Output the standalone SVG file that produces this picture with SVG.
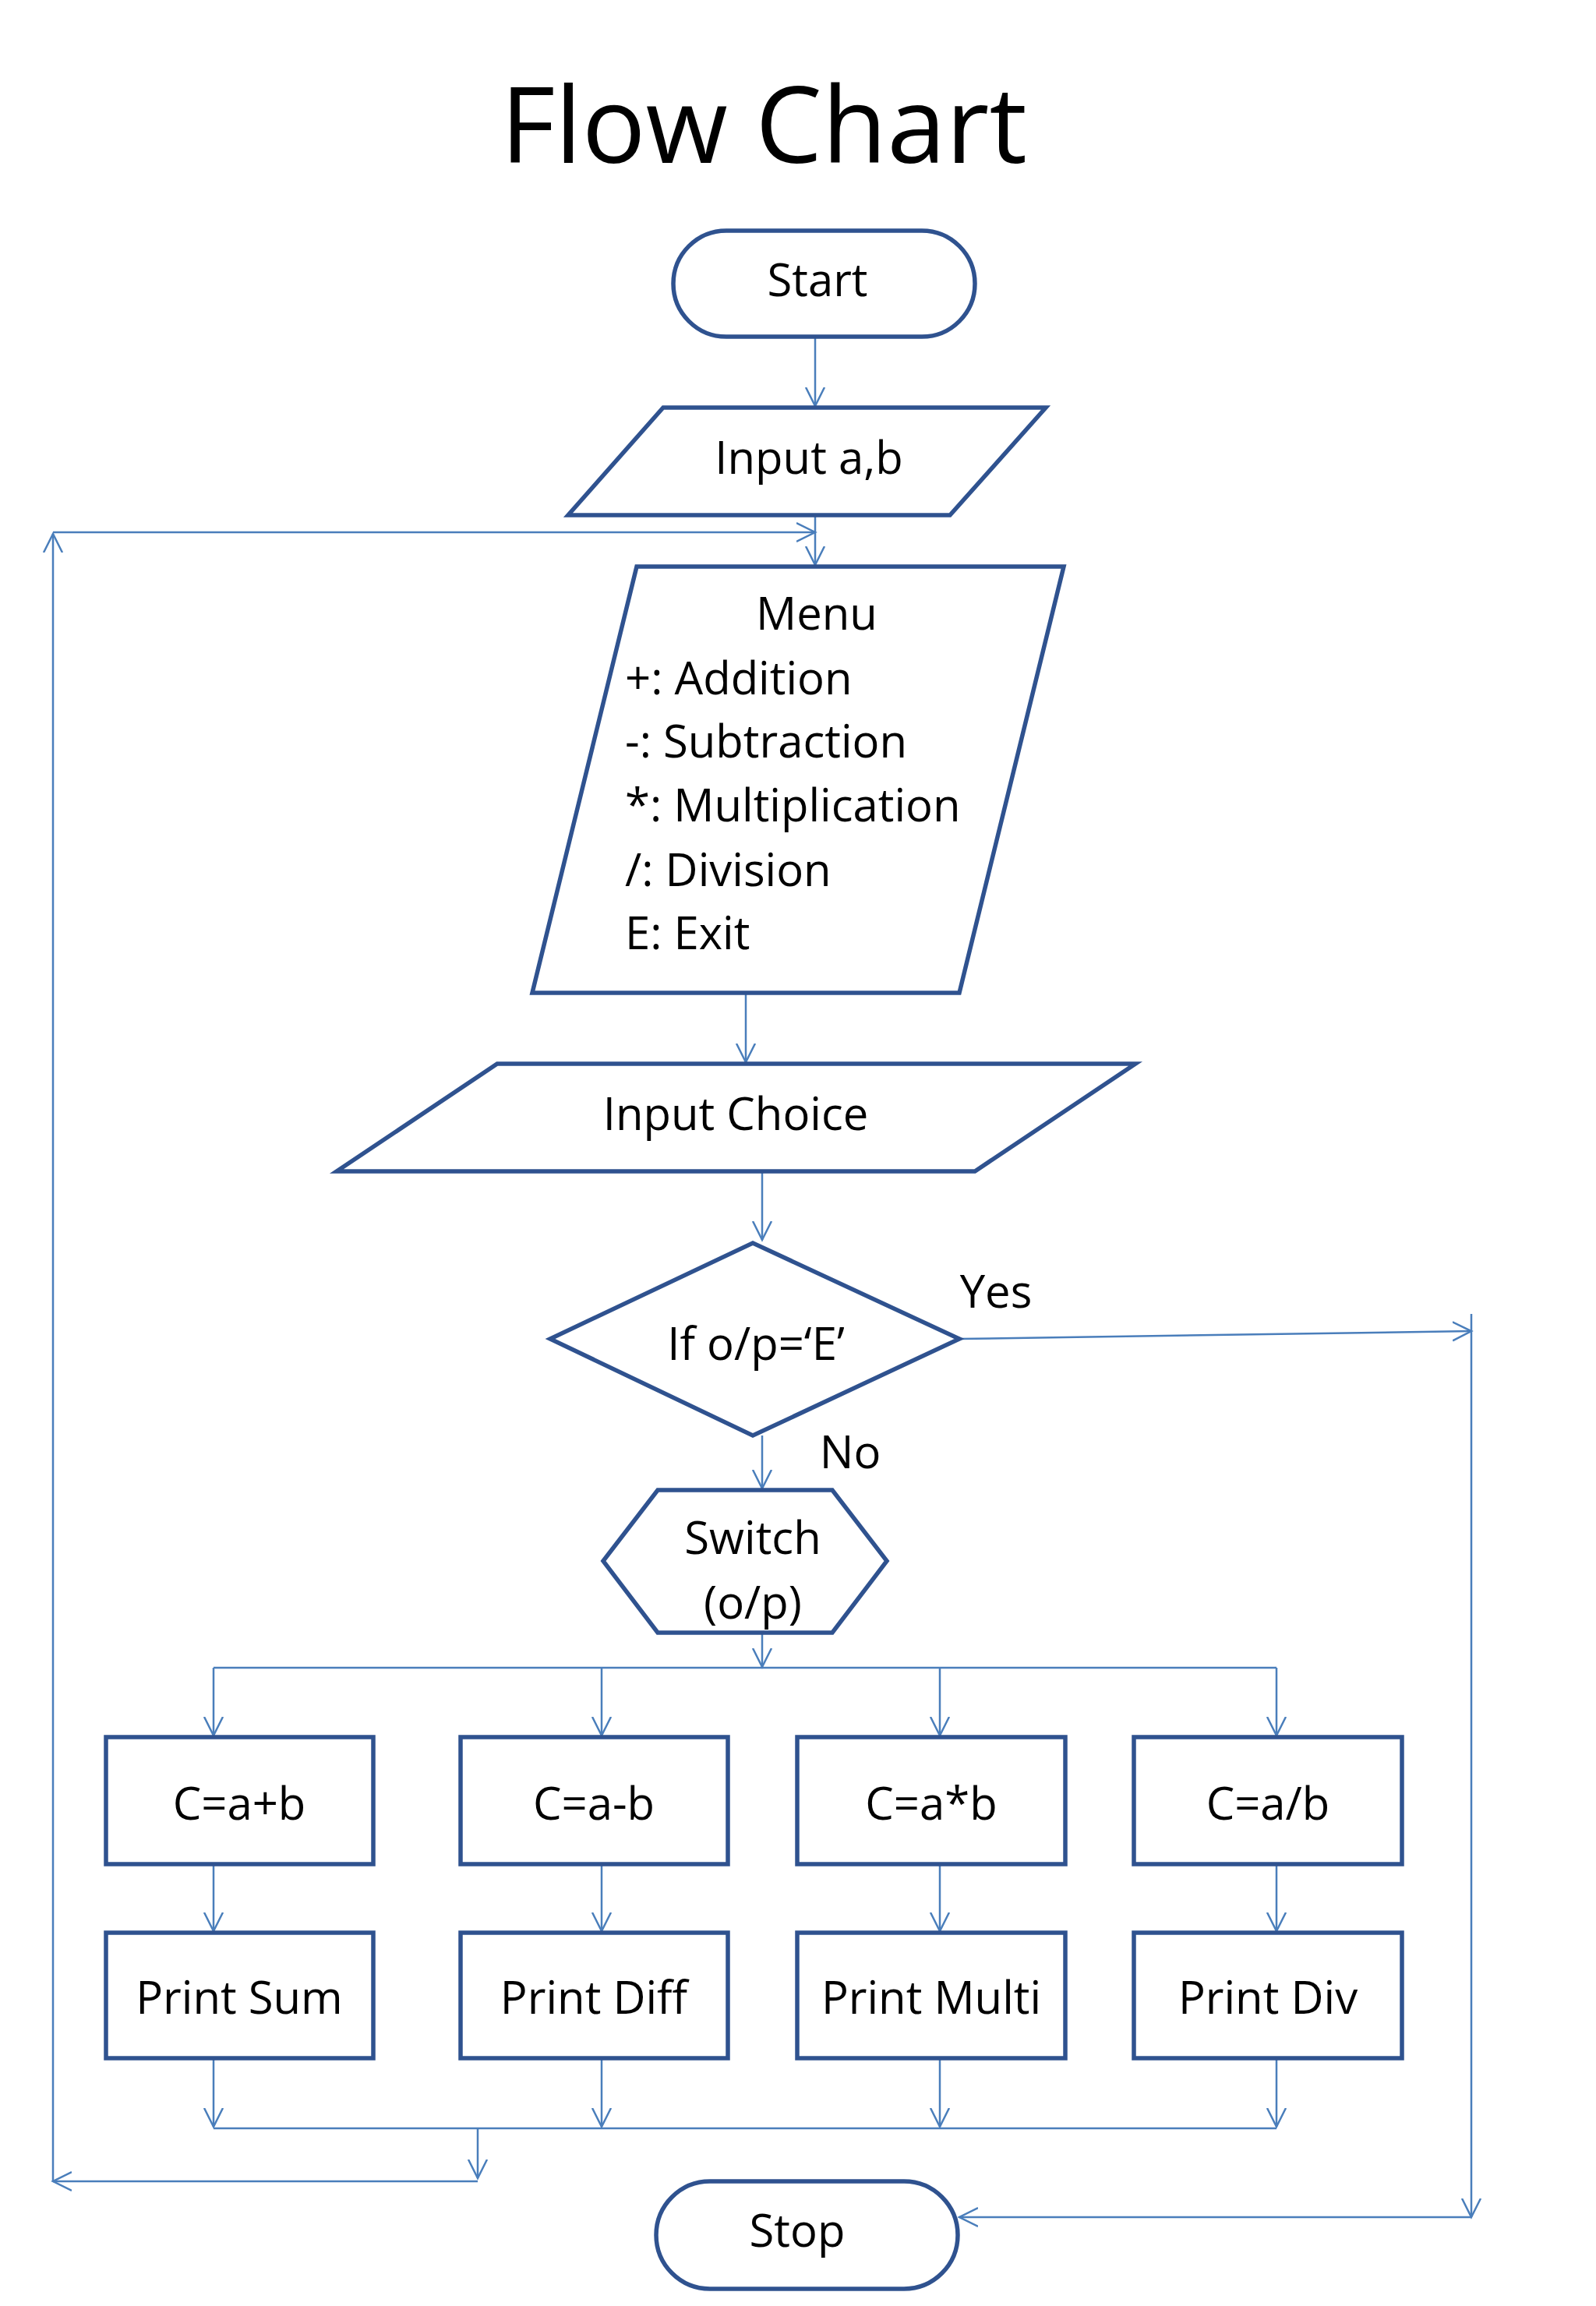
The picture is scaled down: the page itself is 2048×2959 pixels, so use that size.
<svg xmlns="http://www.w3.org/2000/svg" width="2048" height="2959" viewBox="0 0 2048 2959">
<style>
.n{fill:#fff;stroke:#2f528f;stroke-width:5.5}
.c{fill:none;stroke:#4a7ebb;stroke-width:2.5}
text{font-family:"Open Sans","Noto Sans","Liberation Sans",sans-serif;font-size:58px;fill:#000;dominant-baseline:central}
.m{text-anchor:middle}
</style>
<defs>
<marker id="a" markerUnits="userSpaceOnUse" markerWidth="30" markerHeight="30" refX="24" refY="12" orient="auto" viewBox="0 0 30 24">
<path d="M0,0 L24,12 L0,24" fill="none" stroke="#4a7ebb" stroke-width="2.5"/>
</marker>
</defs>
<rect width="2048" height="2959" fill="#fff"/>
<text x="980" y="156" class="m" style="font-size:136px">Flow Chart</text>
<g id="connectors" class="c">
<path class="c" d="M1046,432V521" marker-end="url(#a)"/>
<path class="c" d="M1046,661V725" marker-end="url(#a)"/>
<path class="c" d="M68,683H1046" marker-end="url(#a)"/>
<path class="c" d="M613,2799H68" marker-end="url(#a)"/>
<path class="c" d="M68,2799V685" marker-end="url(#a)"/>
<path class="c" d="M957,1274V1363" marker-end="url(#a)"/>
<path class="c" d="M978,1503V1591" marker-end="url(#a)"/>
<path class="c" d="M1231,1718L1888,1708" marker-end="url(#a)"/>
<path class="c" d="M1888,1686V2845" marker-end="url(#a)"/>
<path class="c" d="M1888,2845H1231" marker-end="url(#a)"/>
<path class="c" d="M978,1842V1910" marker-end="url(#a)"/>
<path class="c" d="M978,2095V2139" marker-end="url(#a)"/>
<path class="c" d="M274,2140H1638"/>
<path class="c" d="M274,2140V2227" marker-end="url(#a)"/>
<path class="c" d="M772,2140V2227" marker-end="url(#a)"/>
<path class="c" d="M1206,2140V2227" marker-end="url(#a)"/>
<path class="c" d="M1638,2140V2227" marker-end="url(#a)"/>
<path class="c" d="M274,2392V2478" marker-end="url(#a)"/>
<path class="c" d="M772,2392V2478" marker-end="url(#a)"/>
<path class="c" d="M1206,2392V2478" marker-end="url(#a)"/>
<path class="c" d="M1638,2392V2478" marker-end="url(#a)"/>
<path class="c" d="M274,2641V2729" marker-end="url(#a)"/>
<path class="c" d="M772,2641V2729" marker-end="url(#a)"/>
<path class="c" d="M1206,2641V2729" marker-end="url(#a)"/>
<path class="c" d="M1638,2641V2729" marker-end="url(#a)"/>
<path class="c" d="M274,2731H1638"/>
<path class="c" d="M613,2731V2795" marker-end="url(#a)"/>
</g>
<text x="1278" y="1655" class="m">Yes</text>
<text x="1091" y="1861" class="m">No</text>
<g id="start"><rect class="n" x="864" y="296" width="387" height="136" rx="68"/><text x="1049" y="357" class="m">Start</text></g>
<g id="input"><polygon class="n" points="851,523 1342,523 1219,661 729,661"/><text x="1038" y="585" class="m">Input a,b</text></g>
<g id="menu"><polygon class="n" points="817,727 1365,727 1231,1274 683,1274"/>
<text x="1048" y="785" class="m">Menu</text>
<text x="802" y="868">+: Addition</text>
<text x="802" y="949">-: Subtraction</text>
<text x="802" y="1031">*: Multiplication</text>
<text x="802" y="1114">/: Division</text>
<text x="802" y="1195">E: Exit</text></g>
<g id="choice"><polygon class="n" points="638,1365 1457,1365 1251,1503 432,1503"/><text x="944" y="1427" class="m">Input Choice</text></g>
<g id="decision"><polygon class="n" points="706,1718 966,1595 1231,1718 966,1842"/><text x="970" y="1722" class="m">If o/p=‘E’</text></g>
<g id="switch"><polygon class="n" points="774,2003 844,1912 1068,1912 1138,2003 1068,2095 844,2095"/><text x="966" y="1971" class="m">Switch</text><text x="966" y="2054" class="m">(o/p)</text></g>
<g id="add"><rect class="n" x="136" y="2229" width="343" height="163"/><text x="307" y="2312" class="m">C=a+b</text></g>
<g id="sub"><rect class="n" x="591" y="2229" width="343" height="163"/><text x="762" y="2312" class="m">C=a-b</text></g>
<g id="mul"><rect class="n" x="1023" y="2229" width="344" height="163"/><text x="1195" y="2312" class="m">C=a*b</text></g>
<g id="div"><rect class="n" x="1455" y="2229" width="344" height="163"/><text x="1627" y="2312" class="m">C=a/b</text></g>
<g id="psum"><rect class="n" x="136" y="2480" width="343" height="161"/><text x="307" y="2561" class="m">Print Sum</text></g>
<g id="pdiff"><rect class="n" x="591" y="2480" width="343" height="161"/><text x="762" y="2561" class="m">Print Diff</text></g>
<g id="pmul"><rect class="n" x="1023" y="2480" width="344" height="161"/><text x="1195" y="2561" class="m">Print Multi</text></g>
<g id="pdiv"><rect class="n" x="1455" y="2480" width="344" height="161"/><text x="1627" y="2561" class="m">Print Div</text></g>
<g id="stop"><rect class="n" x="842" y="2799" width="387" height="138" rx="69"/><text x="1023" y="2860" class="m">Stop</text></g>
</svg>
